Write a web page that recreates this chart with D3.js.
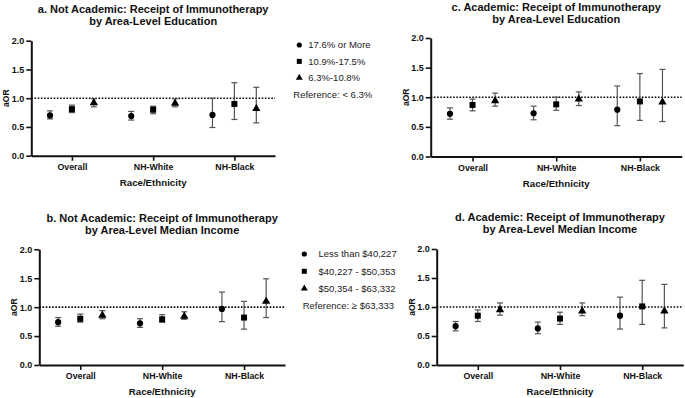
<!DOCTYPE html>
<html lang="en">
<head>
<meta charset="UTF-8"/>
<title>Receipt of Immunotherapy - aOR by area-level education and income</title>
<script src="https://d3js.org/d3.v7.min.js"></script>
<style>
    body { margin: 0; background: #fff; }
    svg text { font-family: "Liberation Sans", Arial, sans-serif; }
</style>
</head>
<body>
<script>
    var w = 685;
    var h = 398;

    // Shared categories / ticks
    var categories = ["Overall", "NH-White", "NH-Black"];
    var yTicks = [0, 0.5, 1.0, 1.5, 2.0];

    // Legend labels
    var eduLabels = ["17.6% or More", "10.9%-17.5%", "6.3%-10.8%"];
    var eduRef = "Reference: < 6.3%";
    var incLabels = ["Less than $40,227", "$40,227 - $50,353", "$50,354 - $63,332"];
    var incRef = "Reference: \u2265 $63,333";

    // Rows = series (circle, square, triangle), columns = categories
    // a. Not Academic, education
    var aEst  = [[0.70, 0.69, 0.71], [0.81, 0.80, 0.90], [0.92, 0.91, 0.82]];
    var aLow  = [[0.64, 0.62, 0.49], [0.75, 0.73, 0.63], [0.85, 0.85, 0.57]];
    var aHigh = [[0.78, 0.77, 1.00], [0.88, 0.86, 1.27], [0.99, 0.99, 1.19]];

    // b. Not Academic, income
    var bEst  = [[0.74, 0.72, 0.97], [0.80, 0.79, 0.82], [0.86, 0.84, 1.10]];
    var bLow  = [[0.67, 0.65, 0.75], [0.74, 0.74, 0.62], [0.80, 0.79, 0.82]];
    var bHigh = [[0.82, 0.80, 1.26], [0.88, 0.87, 1.10], [0.94, 0.92, 1.49]];

    // c. Academic, education
    var cEst  = [[0.72, 0.73, 0.79], [0.87, 0.88, 0.93], [0.94, 0.97, 0.92]];
    var cLow  = [[0.63, 0.62, 0.52], [0.77, 0.78, 0.61], [0.85, 0.86, 0.59]];
    var cHigh = [[0.82, 0.85, 1.19], [0.97, 1.00, 1.40], [1.07, 1.09, 1.47]];

    // d. Academic, income
    var dEst  = [[0.67, 0.63, 0.85], [0.85, 0.80, 1.01], [0.95, 0.93, 0.93]];
    var dLow  = [[0.59, 0.54, 0.62], [0.75, 0.70, 0.70], [0.86, 0.85, 0.64]];
    var dHigh = [[0.75, 0.74, 1.17], [0.95, 0.91, 1.46], [1.07, 1.07, 1.39]];

    var symbols = [d3.symbolCircle, d3.symbolSquare, d3.symbolTriangle];
    var symSizes = [30, 36, 30];
    var offsets = [-0.27, 0, 0.27];

    var panels = [
        { title: ["a. Not Academic: Receipt of Immunotherapy", "by Area-Level Education"],
          est: aEst, low: aLow, high: aHigh,
          x0: 31.3, x1: 275, yTop: 40.7, yBot: 155.7, titleY: 12.8 },
        { title: ["b. Not Academic: Receipt of Immunotherapy", "by Area-Level Median Income"],
          est: bEst, low: bLow, high: bHigh,
          x0: 39.3, x1: 285, yTop: 249.3, yBot: 365, titleY: 221.5 },
        { title: ["c. Academic: Receipt of Immunotherapy", "by Area-Level Education"],
          est: cEst, low: cLow, high: cHigh,
          x0: 430.7, x1: 681.7, yTop: 38, yBot: 156.5, titleY: 11 },
        { title: ["d. Academic: Receipt of Immunotherapy", "by Area-Level Median Income"],
          est: dEst, low: dLow, high: dHigh,
          x0: 436.7, x1: 683.3, yTop: 249, yBot: 365, titleY: 220.5 }
    ];

    var legends = [
        { labels: eduLabels, ref: eduRef, mx: 299.3, tx: 308.3, y0: 45, dy: 16.4, refX: 293.3 },
        { labels: incLabels, ref: incRef, mx: 304.3, tx: 318.5, y0: 254, dy: 17.3, refX: 302.7 }
    ];

    var svg = d3.select("body")
                .append("svg")
                .attr("width", w)
                .attr("height", h);

    function drawPanel(p) {
        var x = d3.scaleLinear().domain([-0.5, 2.5]).range([p.x0, p.x1]);
        var y = d3.scaleLinear().domain([0, 2]).range([p.yBot, p.yTop]);
        var g = svg.append("g");

        // Title, centred on the middle category
        g.selectAll("text.title")
            .data(p.title)
            .enter()
            .append("text")
            .attr("class", "title")
            .attr("x", x(1))
            .attr("y", function(d, i) { return p.titleY + i * 12.2; })
            .attr("text-anchor", "middle")
            .attr("font-size", "11px")
            .attr("font-weight", "bold")
            .attr("fill", "#111")
            .text(function(d) { return d; });

        // Dotted reference line at aOR = 1
        g.append("line")
            .attr("x1", p.x0).attr("x2", p.x1)
            .attr("y1", y(1)).attr("y2", y(1))
            .attr("stroke", "#000")
            .attr("stroke-width", 1.6)
            .attr("stroke-dasharray", "1.6,1.6");

        // y axis
        var yAxis = d3.axisLeft(y)
            .tickValues(yTicks)
            .tickFormat(d3.format(".1f"))
            .tickSize(5)
            .tickSizeOuter(0)
            .tickPadding(2);
        var ya = g.append("g")
            .attr("transform", "translate(" + p.x0 + ",0)")
            .call(yAxis);
        ya.select(".domain").attr("stroke-width", 2).attr("stroke", "#111");
        ya.selectAll(".tick line").attr("stroke-width", 1.6).attr("stroke", "#111");
        ya.selectAll(".tick text")
            .attr("font-size", "9px")
            .attr("font-weight", "bold")
            .attr("font-family", "Liberation Sans, Arial, sans-serif")
            .attr("fill", "#111");

        // x axis
        var xAxis = d3.axisBottom(x)
            .tickValues([0, 1, 2])
            .tickFormat(function(i) { return categories[i]; })
            .tickSize(5)
            .tickSizeOuter(0)
            .tickPadding(3.2);
        var xa = g.append("g")
            .attr("transform", "translate(0," + p.yBot + ")")
            .call(xAxis);
        xa.select(".domain").attr("stroke-width", 2).attr("stroke", "#111");
        xa.selectAll(".tick line").attr("stroke-width", 1.6).attr("stroke", "#111");
        xa.selectAll(".tick text")
            .attr("font-size", "8.8px")
            .attr("font-weight", "bold")
            .attr("font-family", "Liberation Sans, Arial, sans-serif")
            .attr("fill", "#111");

        // Axis titles
        g.append("text")
            .attr("x", x(1))
            .attr("y", p.yBot + 30)
            .attr("text-anchor", "middle")
            .attr("font-size", "9.7px")
            .attr("font-weight", "bold")
            .attr("fill", "#111")
            .text("Race/Ethnicity");

        g.append("text")
            .attr("transform", "translate(" + (p.x0 - 22) + "," + y(1) + ") rotate(-90)")
            .attr("text-anchor", "middle")
            .attr("font-size", "8.5px")
            .attr("font-weight", "bold")
            .attr("fill", "#111")
            .text("aOR");

        // Flatten the series into points
        var pts = [];
        p.est.forEach(function(row, s) {
            row.forEach(function(v, c) {
                pts.push({ s: s, c: c, v: v, lo: p.low[s][c], hi: p.high[s][c] });
            });
        });

        var px = function(d) { return x(d.c + offsets[d.s]); };

        // Error bars
        var eb = g.selectAll("g.err")
            .data(pts)
            .enter()
            .append("g")
            .attr("class", "err")
            .attr("stroke", "#555")
            .attr("stroke-width", 1.2);
        eb.append("line")
            .attr("x1", px).attr("x2", px)
            .attr("y1", function(d) { return y(d.lo); })
            .attr("y2", function(d) { return y(d.hi); });
        eb.append("line")
            .attr("x1", function(d) { return px(d) - 3; })
            .attr("x2", function(d) { return px(d) + 3; })
            .attr("y1", function(d) { return y(d.lo); })
            .attr("y2", function(d) { return y(d.lo); });
        eb.append("line")
            .attr("x1", function(d) { return px(d) - 3; })
            .attr("x2", function(d) { return px(d) + 3; })
            .attr("y1", function(d) { return y(d.hi); })
            .attr("y2", function(d) { return y(d.hi); });

        // Markers
        g.selectAll("path.mark")
            .data(pts)
            .enter()
            .append("path")
            .attr("class", "mark")
            .attr("d", function(d) { return d3.symbol().type(symbols[d.s]).size(symSizes[d.s])(); })
            .attr("transform", function(d) { return "translate(" + px(d) + "," + y(d.v) + ")"; })
            .attr("fill", "#000");
    }

    function drawLegend(L) {
        var g = svg.append("g");
        L.labels.forEach(function(lab, i) {
            var yy = L.y0 + i * L.dy;
            g.append("path")
                .attr("d", d3.symbol().type(symbols[i]).size(symSizes[i] * 0.7)())
                .attr("transform", "translate(" + L.mx + "," + yy + ")")
                .attr("fill", "#000");
            g.append("text")
                .attr("x", L.tx)
                .attr("y", yy)
                .attr("dy", "0.35em")
                .attr("font-size", "9.5px")
                .attr("fill", "#222")
                .text(lab);
        });
        g.append("text")
            .attr("x", L.refX)
            .attr("y", L.y0 + 3 * L.dy)
            .attr("dy", "0.35em")
            .attr("font-size", "9.5px")
            .attr("fill", "#222")
            .text(L.ref);
    }

    panels.forEach(drawPanel);
    legends.forEach(drawLegend);
</script>
</body>
</html>
